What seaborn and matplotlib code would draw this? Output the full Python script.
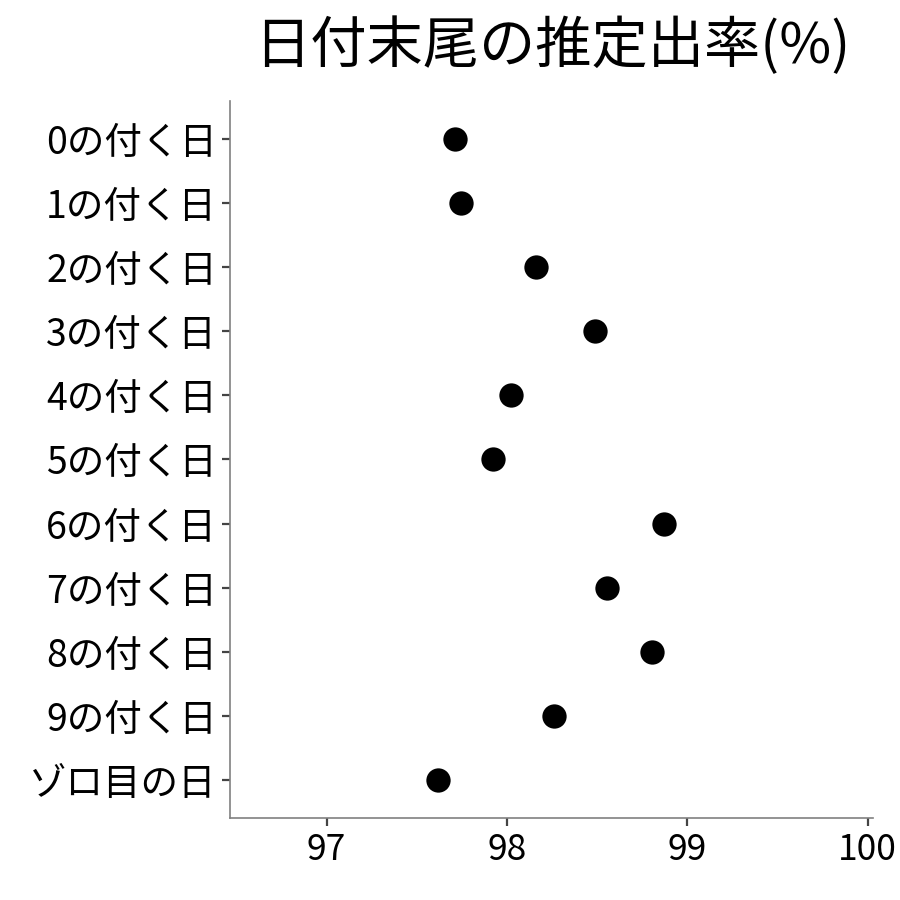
import matplotlib
matplotlib.use("Agg")
import matplotlib.pyplot as plt
import seaborn as sns
import pandas as pd

categories = ["0の付く日", "1の付く日", "2の付く日", "3の付く日", "4の付く日",
              "5の付く日", "6の付く日", "7の付く日", "8の付く日", "9の付く日", "ゾロ目の日"]
rates = [97.714, 97.747, 98.161, 98.490, 98.025, 97.923, 98.873, 98.554, 98.803, 98.260, 97.620]
x_ticks = [97, 98, 99, 100]
title = "日付末尾の推定出率(%)"

df = pd.DataFrame({"day": categories, "rate": rates})

sns.set_theme(style="ticks")
plt.rcParams["font.family"] = ["Noto Sans CJK JP", "DejaVu Sans"]

fig = plt.figure(figsize=(9, 9), dpi=100)
ax = fig.add_axes([0.2556, 0.0906, 0.9700 - 0.2556, 0.8883 - 0.0906])

sns.stripplot(data=df, x="rate", y="day", order=categories, jitter=False,
              color="black", size=17.5, linewidth=0, ax=ax)

ax.set_xlim(96.465, 100.03)
ax.set_ylim(len(categories) - 0.4, -0.6)
ax.set_xticks(x_ticks)
ax.set_xticklabels([str(t) for t in x_ticks])
ax.set_xlabel("")
ax.set_ylabel("")

for side in ["top", "right"]:
    ax.spines[side].set_visible(False)
for side in ["left", "bottom"]:
    ax.spines[side].set_color("#808080")
    ax.spines[side].set_linewidth(1.2)

ax.tick_params(axis="both", length=5.5, width=1.6, color="#444444",
               labelcolor="black", pad=4)
ax.tick_params(axis="y", labelsize=27)
ax.tick_params(axis="x", labelsize=25.5)

fig.text(0.614, 0.948, title, ha="center", va="center", fontsize=40.5, color="black")

fig.savefig("out.png", dpi=100, facecolor="white")
